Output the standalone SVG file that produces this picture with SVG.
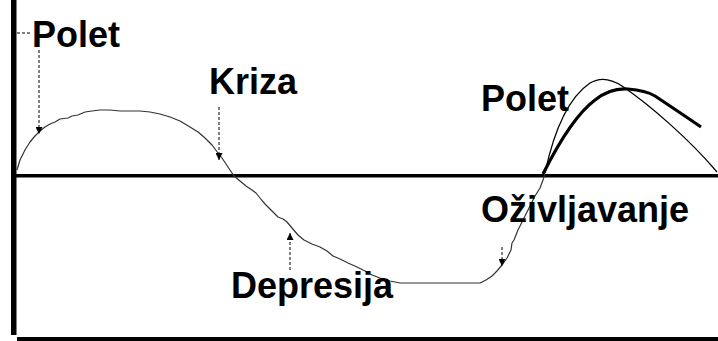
<svg xmlns="http://www.w3.org/2000/svg" width="718" height="341" viewBox="0 0 718 341">
<defs>
<marker id="ah" viewBox="0 0 10 10" refX="10" refY="5" markerWidth="7" markerHeight="7" markerUnits="userSpaceOnUse" orient="auto">
<path d="M0,0 L10,5 L0,10 Z" fill="#000"/>
</marker>
</defs>
<style>
.lbl{font-family:"Liberation Sans",Arial,sans-serif;font-weight:bold;font-size:36px;fill:#000}
.dash{stroke:#000;stroke-width:1;stroke-dasharray:3,2;fill:none}
.curve{stroke:#333;stroke-width:1.2;fill:none;stroke-linejoin:round}
</style>
<rect width="718" height="341" fill="#fff"/>
<g id="axes">
<rect x="11" y="0" width="5.5" height="335" fill="#000"/>
<rect x="16" y="174" width="702" height="3.5" fill="#000"/>
<rect x="17" y="337" width="701" height="4" fill="#000"/>
</g>
<g id="cycle">
<polyline class="curve" points="17,170 20,160 25,150 30,142 35,136 40,131 45,127 50,124 55,122 60,119 68,118 72,116 78,115 85,112 92,111 100,110 110,110 120,111 130,111 140,111 150,112 160,114 170,117 180,121 190,127 198,132 205,138 212,145 218,153 222,158 226,164 230,170 234,176 240,181 246,186 252,190 256,193 260,198 265,204 272,211 278,217 283,219 287,222 292,228 298,235 304,240 312,244 320,247 327,251 333,256 340,259 348,263 357,267 365,271 372,275 380,278 390,281 400,283 480,283 486,280 492,276 497,271 502,265 507,258 511,250 512,243 514,240 518,230 522,222 526,214 530,206 535,196 540,188 543,180 545,174"/>
<path d="M545,173 C552,140 565,100 590,83 C600,77 610,78 622,86 C650,105 690,140 717,172" fill="none" stroke="#000" stroke-width="1.3"/>
<path d="M543,174 C555,150 575,115 595,100 C605,92 615,88 628,89 C640,90 650,93 655,96 C670,106 688,118 701,127" fill="none" stroke="#000" stroke-width="3.2"/>
</g>
<g id="connectors">
<line class="dash" x1="17" y1="33" x2="30" y2="33"/>
<line class="dash" x1="39" y1="50" x2="39" y2="134" marker-end="url(#ah)"/>
<line class="dash" x1="219" y1="107" x2="219" y2="160" marker-end="url(#ah)"/>
<line class="dash" x1="290" y1="270" x2="290" y2="233" marker-end="url(#ah)"/>
<line class="dash" x1="502" y1="247" x2="502" y2="266" marker-end="url(#ah)"/>
</g>
<g id="node-polet1"><text class="lbl" x="32" y="47">Polet</text></g>
<g id="node-kriza"><text class="lbl" x="209" y="94">Kriza</text></g>
<g id="node-polet2"><text class="lbl" x="481" y="111">Polet</text></g>
<g id="node-ozivljavanje"><text class="lbl" x="481" y="222">Oživljavanje</text></g>
<g id="node-depresija"><text class="lbl" x="231" y="298">Depresija</text></g>
</svg>
